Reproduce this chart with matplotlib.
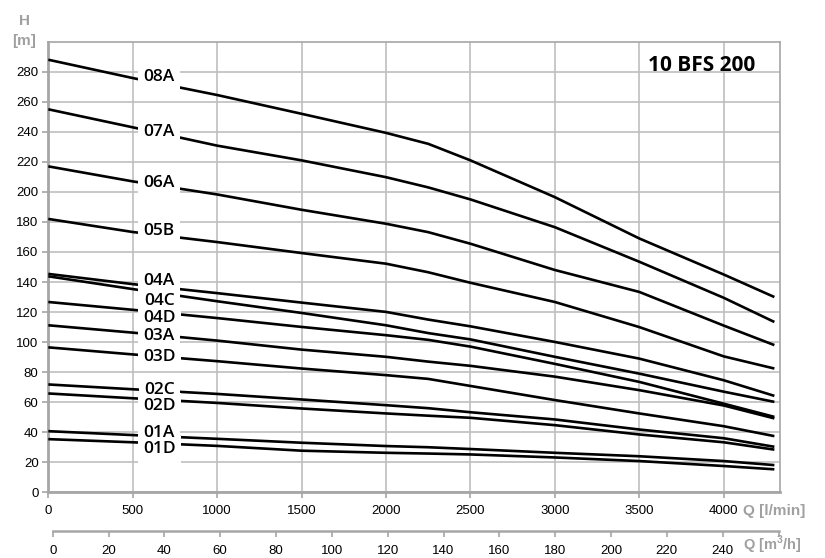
import matplotlib
matplotlib.use('Agg')
import matplotlib.pyplot as plt

plt.rcParams['font.family'] = ['Liberation Sans', 'DejaVu Sans']
plt.rcParams['mathtext.fontset'] = 'custom'
plt.rcParams['mathtext.rm'] = 'Liberation Sans'
plt.rcParams['mathtext.bf'] = 'Liberation Sans:bold'

# Flow rate sample points [l/min]
flow_lpm = [0, 500, 1000, 1500, 2000, 2250, 2500, 3000, 3500, 4000, 4300]

# Head values [m] per pump model
h_08A = [288.0, 275.8, 264.5, 252.0, 239.3, 232.0, 221.0, 196.5, 169.0, 145.0, 130.0]
h_07A = [255.0, 243.0, 230.8, 221.0, 209.8, 203.0, 195.0, 176.5, 153.5, 129.5, 113.4]
h_06A = [217.0, 207.0, 198.3, 188.1, 178.8, 173.2, 165.5, 148.0, 133.4, 111.0, 98.0]
h_05B = [182.0, 173.3, 166.6, 159.3, 152.2, 146.5, 139.5, 126.7, 110.0, 90.5, 82.4]
h_04A = [145.4, 138.6, 132.6, 126.3, 120.1, 115.0, 110.5, 100.1, 89.0, 74.6, 64.2]
h_04C = [143.8, 135.3, 127.2, 119.4, 111.2, 106.0, 101.8, 90.2, 79.0, 67.0, 60.2]
h_04D = [126.7, 121.5, 116.0, 110.1, 104.6, 101.5, 97.0, 85.5, 73.5, 59.0, 50.2]
h_03A = [111.2, 106.3, 101.0, 95.0, 90.2, 87.0, 84.2, 77.0, 68.0, 57.8, 49.2]
h_03D = [96.5, 91.8, 87.3, 82.4, 78.0, 75.5, 70.8, 61.4, 52.5, 44.0, 37.4]
h_02C = [71.8, 68.6, 65.5, 61.8, 58.0, 56.0, 53.3, 48.5, 41.8, 36.0, 30.3]
h_02D = [65.8, 62.6, 59.5, 55.8, 52.5, 51.0, 49.6, 44.7, 38.5, 33.3, 28.4]
h_01A = [40.7, 38.1, 35.6, 33.0, 30.8, 30.0, 28.8, 26.3, 24.0, 20.8, 18.1]
h_01D = [35.4, 33.3, 30.9, 27.7, 26.3, 25.8, 25.2, 23.2, 20.8, 17.5, 15.3]

model_names = ['08A', '07A', '06A', '05B', '04A', '04C', '04D',
               '03A', '03D', '02C', '02D', '01A', '01D']
model_heads = [h_08A, h_07A, h_06A, h_05B, h_04A, h_04C, h_04D,
               h_03A, h_03D, h_02C, h_02D, h_01A, h_01D]

# label anchor heads (layout)
label_flow = 657
label_heads = [276.7, 239.7, 205.8, 174.3, 140.7, 127.4, 116.3,
               103.9, 90.1, 68.4, 57.6, 39.2, 28.6]

lpm_ticks = list(range(0, 4001, 500))
h_ticks = list(range(0, 281, 20))
m3h_ticks = list(range(0, 261, 20))
m3h_labels = [str(v) for v in range(0, 241, 20)] + ['']

W, H = 825, 558
fig = plt.figure(figsize=(W / 100, H / 100), dpi=100)
ax = fig.add_axes([48.3 / W, 1 - 492.3 / H, (780 - 48.3) / W, (492.3 - 41.7) / H])

GRID = '#BFBFBF'
SPINE = '#A6A6A6'
LABELGRAY = '#A0A0A0'

for hs in model_heads:
    ax.plot(flow_lpm, hs, color='black', lw=1.9, solid_joinstyle='round',
            solid_capstyle='butt', zorder=3)

label_font = dict(ha='center', va='center', fontsize=12.5, fontweight='semibold',
                  family=['Open Sans', 'DejaVu Sans'])
# white masks first, then the texts on top
for name, yl in zip(model_names, label_heads):
    ax.text(label_flow, yl, name, color='white', alpha=1,
            bbox=dict(boxstyle='square,pad=0.3', fc='white', ec='none'),
            zorder=4, **label_font)
for name, yl in zip(model_names, label_heads):
    ax.text(label_flow, yl, name, color='black', zorder=5, **label_font)

ax.set_xlim(0, 4333.3)
ax.set_ylim(0, 300)
ax.set_xticks(lpm_ticks)
ax.set_yticks(h_ticks)
ax.set_xticklabels([str(v) for v in lpm_ticks])
ax.grid(True, color=GRID, lw=1.2, zorder=0)
ax.set_axisbelow(True)
for side in ['top', 'right']:
    ax.spines[side].set_color(SPINE)
    ax.spines[side].set_linewidth(1.2)
for side in ['left', 'bottom']:
    ax.spines[side].set_color(SPINE)
    ax.spines[side].set_linewidth(2.0)
ax.tick_params(axis='both', colors=SPINE, labelcolor='black', length=4,
               width=1.2, labelsize=9.5)
ax.tick_params(axis='x', pad=5)
ax.tick_params(axis='y', pad=3)

# secondary flow axis in m3/h
ax2 = fig.add_axes([52.7 / W, 1 - 531 / H, (778.5 - 52.7) / W, 0.0001])
ax2.set_xlim(0, 260)
ax2.set_xticks(m3h_ticks)
ax2.set_xticklabels(m3h_labels)
ax2.set_yticks([])
ax2.patch.set_visible(False)
for side in ['top', 'right', 'left']:
    ax2.spines[side].set_visible(False)
ax2.spines['bottom'].set_color(SPINE)
ax2.spines['bottom'].set_linewidth(1.8)
ax2.tick_params(axis='x', colors=SPINE, labelcolor='black', length=4,
                width=1.2, labelsize=9.5, pad=6)

fig.text(743 / W, 1 - 511 / H, 'Q [l/min]', ha='left', va='center',
         fontsize=11, fontweight='bold', color=LABELGRAY)
fig.text(743 / W, 1 - 550 / H, r'Q [m$^\mathbf{3}$/h]', ha='left', va='baseline',
         fontsize=10.5, fontweight='bold', color=LABELGRAY)
fig.text(24 / W, 1 - 21 / H, 'H', ha='center', va='center',
         fontsize=11, fontweight='bold', color=LABELGRAY)
fig.text(24.5 / W, 1 - 41 / H, '[m]', ha='center', va='center',
         fontsize=11, fontweight='bold', color=LABELGRAY)
fig.text(702 / W, 1 - 65.5 / H, '10 BFS 200', ha='center', va='center',
         fontsize=15, fontweight='bold', family=['Open Sans', 'DejaVu Sans'],
         color='black')

fig.savefig('out.png', dpi=100)
